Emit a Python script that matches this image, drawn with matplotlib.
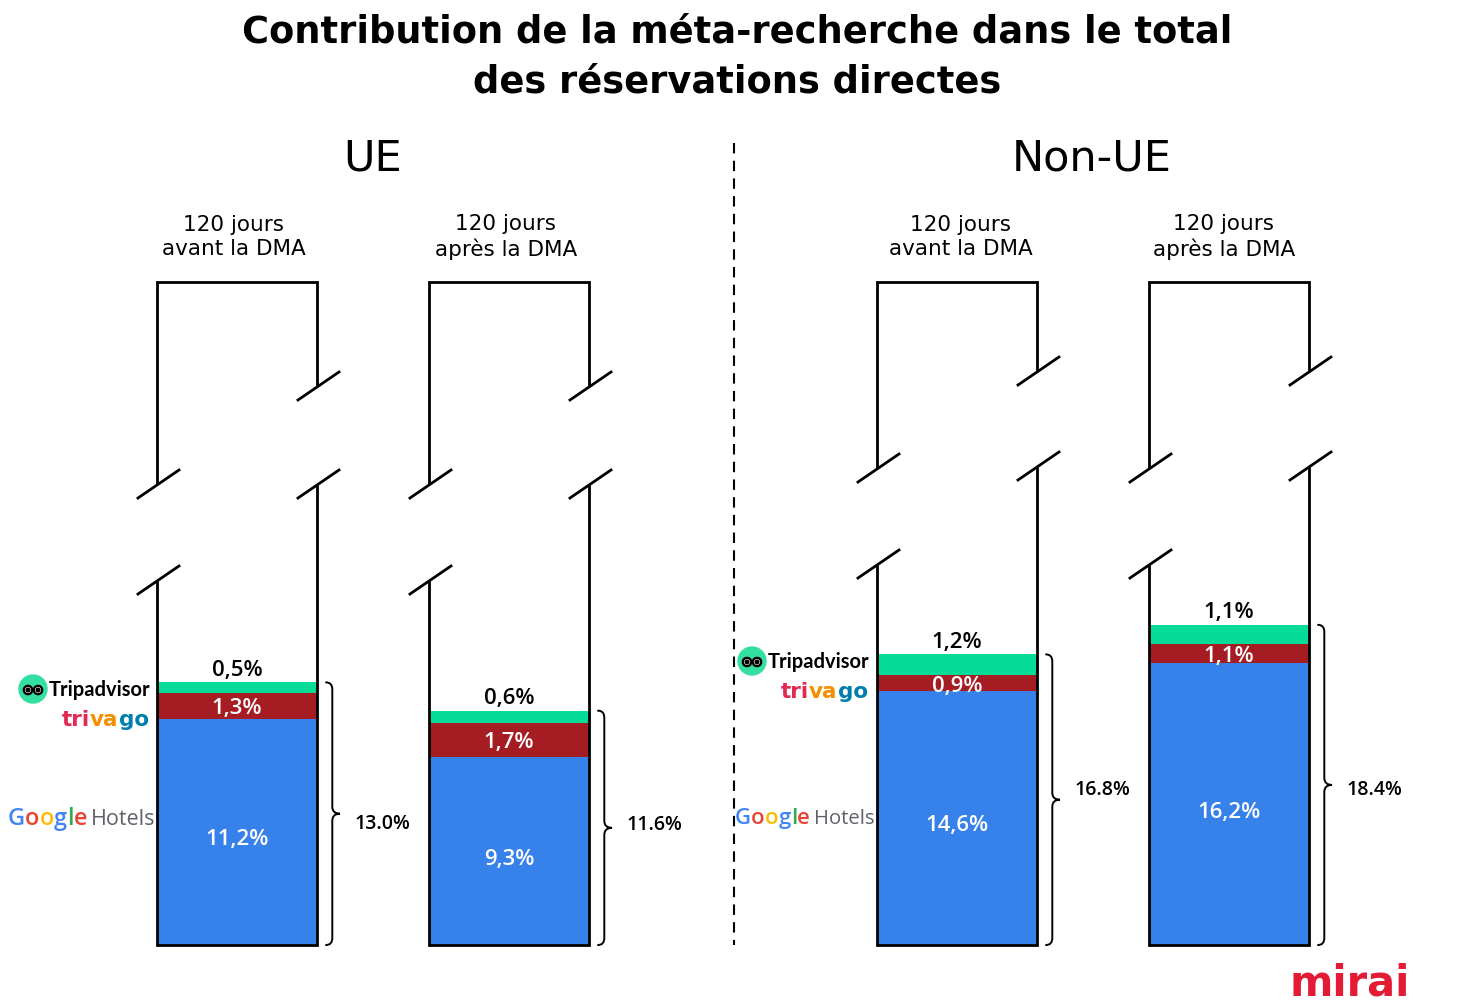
import matplotlib
matplotlib.use("Agg")
import matplotlib.pyplot as plt
from matplotlib.path import Path
from matplotlib.patches import PathPatch, Circle

# ---------------- data ----------------
regions = ["UE", "Non-UE"]
periods = ["120 jours\navant la DMA", "120 jours\naprès la DMA"]
google_ue = [11.2, 9.3]
trivago_ue = [1.3, 1.7]
tripadvisor_ue = [0.5, 0.6]
total_ue = [13.0, 11.6]
google_nonue = [14.6, 16.2]
trivago_nonue = [0.9, 1.1]
tripadvisor_nonue = [1.2, 1.1]
total_nonue = [16.8, 18.4]

title = "Contribution de la méta-recherche dans le total\ndes réservations directes"

C_BLUE = "#3781EA"
C_RED = "#A51D22"
C_GREEN = "#06DC97"
FONT = "DejaVu Sans"
VFONT = "Open Sans"

W, H = 1458, 1005
fig = plt.figure(figsize=(W / 100, H / 100), dpi=100)
fig.patch.set_facecolor("white")

BASE = 945      # pixel y of bar bottom
TOPPX = 282     # pixel y of outline top

# overlay axes in pixel coordinates
ov = fig.add_axes([0, 0, 1, 1])
ov.set_xlim(0, W)
ov.set_ylim(H, 0)
ov.axis("off")
ov.set_zorder(3)
ov.patch.set_alpha(0)


def fmt(v):
    return f"{v:.1f}".replace(".", ",") + "%"


def brace(ax, x, lo, hi, w, r):
    mid = (lo + hi) / 2
    xm = x + w * 0.45
    verts = [(x, lo), (xm, lo), (xm, lo + r),
             (xm, mid - r),
             (xm, mid), (x + w, mid),
             (xm, mid), (xm, mid + r),
             (xm, hi - r),
             (xm, hi), (x, hi)]
    codes = [Path.MOVETO, Path.CURVE3, Path.CURVE3,
             Path.LINETO,
             Path.CURVE3, Path.CURVE3,
             Path.CURVE3, Path.CURVE3,
             Path.LINETO,
             Path.CURVE3, Path.CURVE3]
    ax.add_patch(PathPatch(Path(verts, codes), fill=False, lw=1.4,
                           edgecolor="black", capstyle="round", clip_on=False))


def panel(ypx_per_unit, centers, google, trivago, trip, totals, label_px):
    ax = fig.add_axes([0, (H - BASE) / H, 1, (BASE - TOPPX) / H])
    ax.set_xlim(0, W)
    ax.set_ylim(0, (BASE - TOPPX) / ypx_per_unit)
    ax.axis("off")
    ax.patch.set_alpha(0)
    ax.set_zorder(2)
    bw = 160
    ax.bar(centers, google, width=bw, color=C_BLUE, linewidth=0)
    ax.bar(centers, trivago, width=bw, bottom=google, color=C_RED, linewidth=0)
    bot2 = [g + t for g, t in zip(google, trivago)]
    ax.bar(centers, trip, width=bw, bottom=bot2, color=C_GREEN, linewidth=0)
    r = 7 / ypx_per_unit
    for i, c in enumerate(centers):
        g, t, p, tot = google[i], trivago[i], trip[i], totals[i]
        ax.annotate(fmt(g), (c, g / 2), xytext=(0, -8), textcoords="offset pixels",
                    ha="center", va="center",
                    color="white", fontsize=16, fontweight="semibold", family=VFONT)
        ax.annotate(fmt(t), (c, g + t / 2), xytext=(0, -3), textcoords="offset pixels",
                    ha="center", va="center",
                    color="white", fontsize=16, fontweight="semibold", family=VFONT)
        ax.annotate(fmt(p), (c, g + t + p), xytext=(0, 12), textcoords="offset pixels",
                    ha="center", va="center", color="black", fontsize=16,
                    fontweight="semibold", family=VFONT)
        top = g + t + p
        right = c + bw / 2
        brace(ax, right + 9, 0, top, 14, r)
        ov.text(right + 65, label_px[i], f"{tot:.1f}%",
                ha="center", va="center", fontsize=14, fontweight="semibold",
                family=VFONT, color="black")
    return ax


panel(20.2, [237, 509], google_ue, trivago_ue, tripadvisor_ue, total_ue, [824, 825])
panel(17.4, [957, 1229], google_nonue, trivago_nonue, tripadvisor_nonue, total_nonue, [790, 790])

# ---------------- outlines & breaks ----------------
LW = 2.0


def outline(xl, xr, yr1, yl1, yr2, yl2):
    ov.plot([xl, xl, xr, xr], [yl1, TOPPX, TOPPX, yr1], color="black", lw=LW,
            solid_joinstyle="miter")
    ov.plot([xl, xl, xr, xr], [yl2, BASE, BASE, yr2], color="black", lw=LW,
            solid_joinstyle="miter")
    for (x, y) in [(xr, yr1 + 1), (xl, yl1 + 1), (xr, yr2 - 2), (xl, yl2 - 2)]:
        ov.plot([x - 19, x + 22], [y + 14, y - 14], color="black", lw=LW)


outline(157, 317, 385, 483, 486, 582)
outline(429, 589, 385, 483, 486, 582)
outline(877, 1037, 370, 467, 468, 566)
outline(1149, 1309, 370, 467, 468, 566)

# dashed divider
ov.plot([734, 734], [143, 945], color="black", lw=1.5, dashes=(5, 3.5))

# ---------------- text ----------------
ov.text(737, 57, title, ha="center", va="center", fontsize=26.5, fontweight="bold",
        family=FONT, linespacing=1.45)
ov.text(373, 158, regions[0], ha="center", va="center", fontsize=31, family=FONT)
ov.text(1092, 158, regions[1], ha="center", va="center", fontsize=31, family=FONT)
for x, lab in zip([234, 506, 961, 1224], periods * 2):
    ov.text(x, 237, lab, ha="center", va="center", fontsize=15.5, family=FONT,
            linespacing=1.3)

# mirai logo
ov.text(1350, 995, "mirai", ha="center", va="baseline", fontsize=30,
        fontweight="bold", family=FONT, color="#E31B35")

# ---------------- logos ----------------
renderer = fig.canvas.get_renderer()


def multicolor(x, y, parts, **kw):
    for s, col in parts:
        t = ov.text(x, y, s, ha="left", va="baseline", color=col, **kw)
        bb = t.get_window_extent(renderer)
        x += bb.width
    return x


def tripadvisor(cx, cy, tx):
    ov.add_patch(Circle((cx, cy), 14, color="#34E0A1", zorder=4))
    for dx in (-5, 5):
        ov.add_patch(Circle((cx + dx, cy + 1), 4.2, facecolor="white",
                            edgecolor="black", lw=1.6, zorder=5))
        ov.add_patch(Circle((cx + dx, cy + 1), 1.8, color="black", zorder=6))
    ov.text(tx, cy + 7, "Tripadvisor", ha="left", va="baseline", fontsize=14.5,
            fontweight="bold", family="Lato", color="black")


def trivago(x, y):
    multicolor(x, y, [("tri", "#E32851"), ("va", "#F48F00"), ("go", "#007FAD")],
               fontsize=15.5, fontweight="bold", family=FONT)


def google_hotels(x, y, s=1.0):
    xe = multicolor(x, y, [("G", "#4285F4"), ("o", "#EA4335"), ("o", "#FBBC05"),
                           ("g", "#4285F4"), ("l", "#34A853"), ("e", "#EA4335")],
                    fontsize=17 * s, family="Open Sans", fontweight="semibold")
    ov.text(xe + 4 * s, y, "Hotels", ha="left", va="baseline", fontsize=15.5 * s,
            family="Open Sans", color="#5F6368")


tripadvisor(33, 689, 49)
trivago(62, 726)
google_hotels(8, 825)

tripadvisor(752, 661, 768)
trivago(781, 698)
google_hotels(735, 824, 0.94)

fig.savefig("out.png", dpi=100, facecolor="white")
